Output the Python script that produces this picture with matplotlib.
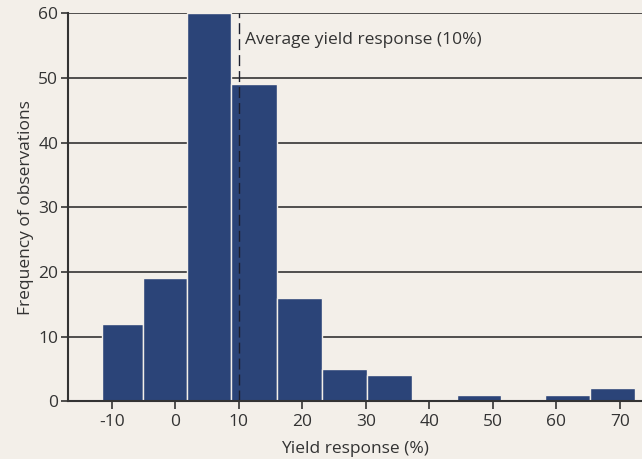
import matplotlib.pyplot as plt
import numpy as np

# histogram bins (yield response, %) and counts
bin_edges = [-11.6, -5.1, 1.9, 8.8, 16.0, 23.1, 30.2, 37.2, 44.4, 51.3, 58.3, 65.3, 72.4]
counts = [12, 19, 60, 49, 16, 5, 4, 0, 1, 0, 1, 2]
x_ticks = [-10, 0, 10, 20, 30, 40, 50, 60, 70]
y_ticks = [0, 10, 20, 30, 40, 50, 60]
avg_response = 10

bg = "#f3efe9"
bar_color = "#2b4478"
ink = "#333333"

plt.rcParams['font.family'] = ['Open Sans', 'DejaVu Sans']

fig = plt.figure(figsize=(6.42, 4.59), dpi=100, facecolor=bg)
ax = fig.add_axes([0.106, 0.126, 0.894, 0.845], facecolor=bg)

edges = np.array(bin_edges)
ax.bar(edges[:-1], counts, width=np.diff(edges), align="edge",
       color=bar_color, edgecolor="#f3efe9", linewidth=1.0, zorder=2)

# gridlines behind bars
for y in y_ticks[1:]:
    ax.axhline(y, color=ink, linewidth=1.2, zorder=1)

ax.axvline(avg_response, color="#1c1f2e", linewidth=1.0, linestyle=(0, (7.9, 3.6)), zorder=3)
ax.text(avg_response + 0.9, 55.8, "Average yield response (10%)", fontsize=12.5,
        color=ink, va="center", ha="left")

ax.set_xlim(-16.9, 73.5)
ax.set_ylim(0, 60)
ax.set_xticks(x_ticks)
ax.set_xticklabels([str(t) for t in x_ticks])
ax.set_yticks(y_ticks)

for s in ["top", "right"]:
    ax.spines[s].set_visible(False)
for s in ["left", "bottom"]:
    ax.spines[s].set_color(ink)
    ax.spines[s].set_linewidth(1.5)
    ax.spines[s].set_zorder(4)

ax.tick_params(axis="x", length=6, width=1.2, color=ink, labelsize=12.5,
               labelcolor=ink, pad=3)
ax.tick_params(axis="y", length=5, width=1.2, color=ink, labelsize=12.5,
               labelcolor=ink, pad=2)

ax.set_xlabel("Yield response (%)", fontsize=12.5, color=ink, labelpad=8)
ax.set_ylabel("Frequency of observations", fontsize=12.5, color=ink, labelpad=3)

fig.savefig("out.png", dpi=100, facecolor=bg)
